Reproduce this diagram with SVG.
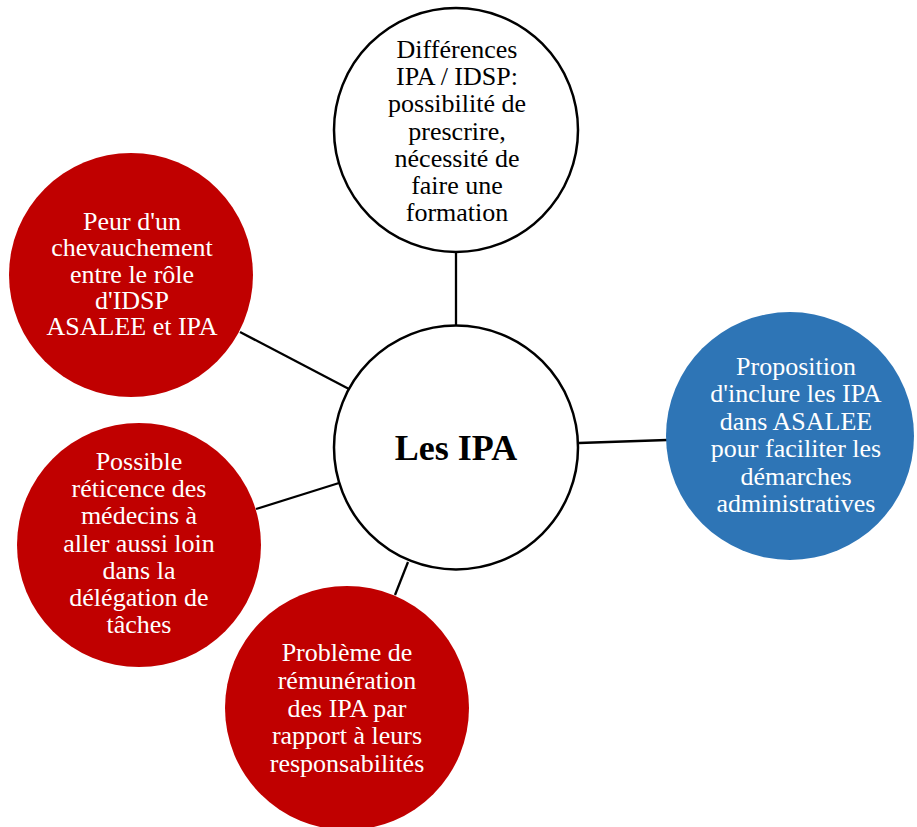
<svg xmlns="http://www.w3.org/2000/svg" width="917" height="827" viewBox="0 0 917 827">
<style>
.w{fill:#fff;stroke:#000;stroke-width:2.5}
.r{fill:#C00000}
.b{fill:#2E75B6}
.t{font-family:"Liberation Serif","Times New Roman",serif;font-size:26px;text-anchor:middle}
.tw{fill:#fff}
.tb{fill:#000}
.c line{stroke:#000;stroke-width:2.3}
</style>
<rect width="917" height="827" fill="#fff"/>
<g class="c" id="connectors">
<line x1="456" y1="252" x2="456" y2="326"/>
<line x1="579" y1="443" x2="667" y2="440"/>
<line x1="240" y1="332" x2="349" y2="389"/>
<line x1="256" y1="509" x2="339" y2="483"/>
<line x1="395" y1="595" x2="408" y2="562"/>
</g>
<g id="center">
<circle class="w" cx="456" cy="447.5" r="122"/>
<text x="456" y="460" style="font-family:'Liberation Serif','Times New Roman',serif;font-size:36px;font-weight:bold;text-anchor:middle" fill="#000">Les IPA</text>
</g>
<g id="top">
<circle class="w" cx="456" cy="130" r="122"/>
<text class="t tb" x="457"><tspan x="457" y="58">Différences</tspan><tspan x="457" y="85.2">IPA / IDSP:</tspan><tspan x="457" y="112.4">possibilité de</tspan><tspan x="457" y="139.6">prescrire,</tspan><tspan x="457" y="166.8">nécessité de</tspan><tspan x="457" y="194">faire une</tspan><tspan x="457" y="221.2">formation</tspan></text>
</g>
<g id="right">
<circle class="b" cx="790" cy="436" r="124"/>
<text class="t tw"><tspan x="796" y="375">Proposition</tspan><tspan x="796" y="402.4">d'inclure les IPA</tspan><tspan x="796" y="429.8">dans ASALEE</tspan><tspan x="796" y="457.2">pour faciliter les</tspan><tspan x="796" y="484.6">démarches</tspan><tspan x="796" y="512">administratives</tspan></text>
</g>
<g id="topleft">
<circle class="r" cx="131" cy="275" r="122"/>
<text class="t tw"><tspan x="132" y="230">Peur d'un</tspan><tspan x="132" y="256.3">chevauchement</tspan><tspan x="132" y="282.5">entre le rôle</tspan><tspan x="132" y="308.8">d'IDSP</tspan><tspan x="132" y="335">ASALEE et IPA</tspan></text>
</g>
<g id="left">
<circle class="r" cx="139" cy="545" r="122"/>
<text class="t tw"><tspan x="139" y="470">Possible</tspan><tspan x="139" y="497.2">réticence des</tspan><tspan x="139" y="524.3">médecins à</tspan><tspan x="139" y="551.5">aller aussi loin</tspan><tspan x="139" y="578.7">dans la</tspan><tspan x="139" y="605.8">délégation de</tspan><tspan x="139" y="633">tâches</tspan></text>
</g>
<g id="bottom">
<circle class="r" cx="347" cy="708" r="122"/>
<text class="t tw"><tspan x="347" y="661">Problème de</tspan><tspan x="347" y="688.8">rémunération</tspan><tspan x="347" y="716.5">des IPA par</tspan><tspan x="347" y="744.3">rapport à leurs</tspan><tspan x="347" y="772">responsabilités</tspan></text>
</g>
</svg>
